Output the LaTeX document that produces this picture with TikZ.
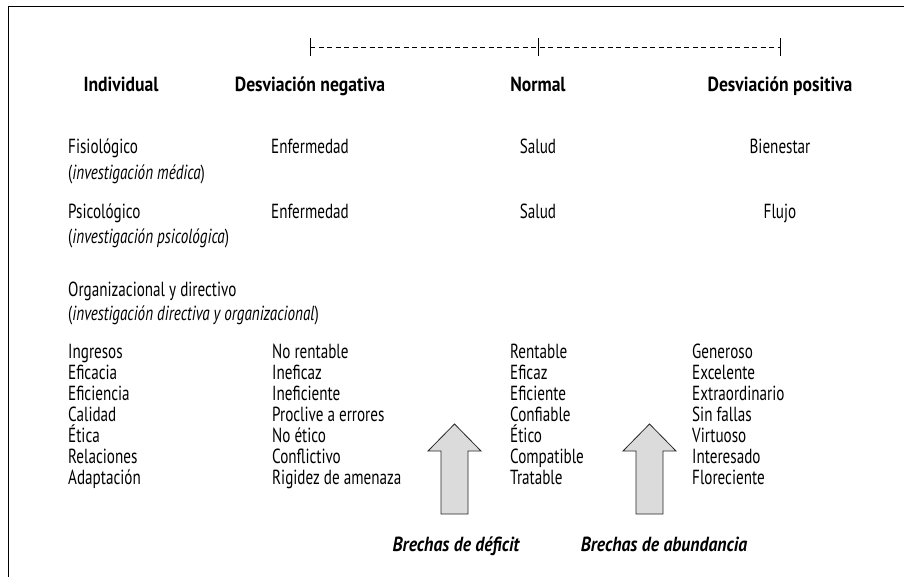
\documentclass[tikz,border=0pt]{standalone}
\usepackage{fontspec}
\setmainfont[FakeStretch=0.742]{PT Sans}
\newfontfamily\headfont[FakeStretch=0.864]{PT Sans}
\begin{document}
\begin{tikzpicture}[x=1pt,y=-1pt,
  txt/.style={inner sep=0pt,font=\fontsize{20.4}{22}\selectfont},
  lft/.style={txt,anchor=base west},
  ctr/.style={txt,anchor=base},
  hdr/.style={txt,anchor=base,font=\fontsize{20.4}{22}\headfont\bfseries},
  gap/.style={txt,anchor=base,font=\fontsize{20.4}{22}\headfont\bfseries\itshape},
  tick/.style={line width=0.8pt},
  bigarrow/.style={draw=black!85,line width=0.8pt,fill=black!14,line join=miter}]
\useasboundingbox (0,0) rectangle (904,577);
% frame
\draw[line width=1pt] (8,577) -- (8,7) -- (904,7);
% deviation scale
\coordinate (sL) at (310,47);
\coordinate (sM) at (538,47);
\coordinate (sR) at (780,47);
\draw[dashed,dash pattern=on 5pt off 3.5pt,line width=0.6pt] (sL) -- (sR);
\foreach \p in {sL,sM,sR} \draw[tick] ([yshift=-9pt]\p) -- ([yshift=9pt]\p);
% column headings
\node[hdr] (hInd) at (121,92) {Individual};
\node[hdr] (hNeg) at (310,92) {Desviación negativa};
\node[hdr] (hNor) at (538,92) {Normal};
\node[hdr] (hPos) at (780,92) {Desviación positiva};
% physiological
\node[lft] (fis) at (68,154) {Fisiológico};
\node[lft] (fisR) at (68,179.5) {(\textit{investigación médica})};
\node[ctr] (fisN) at (310,154) {Enfermedad};
\node[ctr] (fisM) at (538,154) {Salud};
\node[ctr] (fisP) at (780,154) {Bienestar};
% psychological
\node[lft] (psi) at (68,218.5) {Psicológico};
\node[lft] (psiR) at (68,243.5) {(\textit{investigación psicológica})};
\node[ctr] (psiN) at (310,218.5) {Enfermedad};
\node[ctr] (psiM) at (538,218.5) {Salud};
\node[ctr] (psiP) at (780,218.5) {Flujo};
% organizational
\node[lft] (org) at (68,296.5) {Organizacional y directivo};
\node[lft] (orgR) at (68,320.5) {(\textit{investigación directiva y organizacional})};
% organizational list
\foreach \a/\b/\c/\d [count=\i] in {
  Ingresos/No rentable/Rentable/Generoso,
  Eficacia/Ineficaz/Eficaz/Excelente,
  Eficiencia/Ineficiente/Eficiente/Extraordinario,
  Calidad/Proclive a errores/Confiable/Sin fallas,
  Ética/No ético/Ético/Virtuoso,
  Relaciones/Conflictivo/Compatible/Interesado,
  Adaptación/Rigidez de amenaza/Tratable/Floreciente} {
  \node[lft] (la\i) at (68,337.8+21*\i) {\a};
  \node[lft] (lb\i) at (272,337.8+21*\i) {\b};
  \node[lft] (lc\i) at (510,337.8+21*\i) {\c};
  \node[lft] (ld\i) at (692,337.8+21*\i) {\d};
}
% gap arrows
\draw[bigarrow] (441,514) -- (441,451) -- (428,451) -- (454.5,424) -- (481,451) -- (468,451) -- (468,514) -- cycle;
\draw[bigarrow] (636,514) -- (636,451) -- (623,451) -- (649.5,424) -- (676,451) -- (663,451) -- (663,514) -- cycle;
\node[gap] (gDef) at (456,551) {Brechas de déficit};
\node[gap] (gAbu) at (664,551) {Brechas de abundancia};
\end{tikzpicture}
\end{document}
